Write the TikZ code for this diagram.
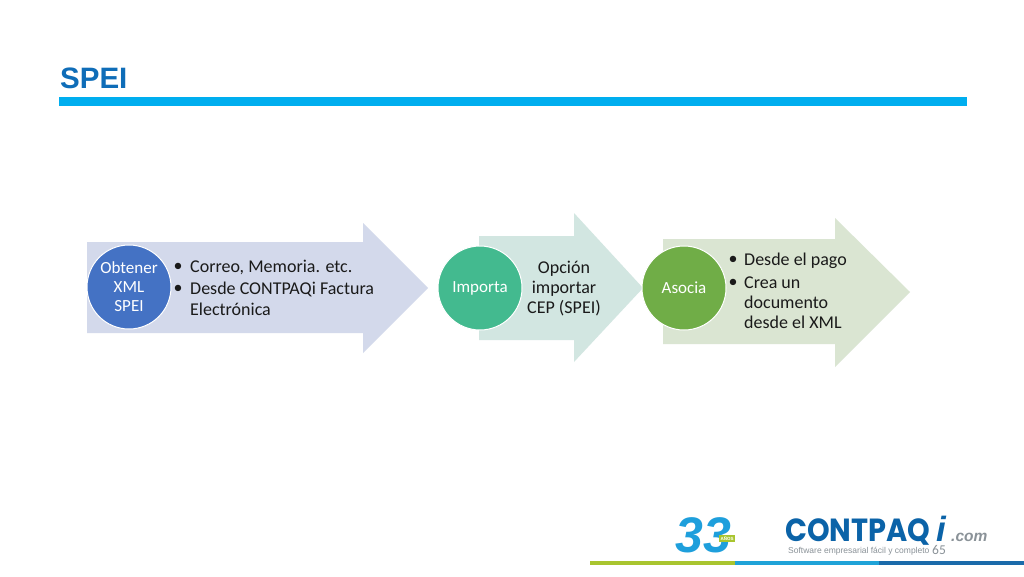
\documentclass[tikz,border=0pt]{standalone}
\usepackage{fontspec}
\setmainfont{Carlito}
\newfontfamily\arialfont{Liberation Sans}
\newfontfamily\logofont{Poppins}
\definecolor{titleblue}{HTML}{0F6DB8}
\definecolor{barblue}{HTML}{00AEEF}
\definecolor{arrowa}{HTML}{D3D9EB}
\definecolor{arrowb}{HTML}{D2E6E1}
\definecolor{arrowc}{HTML}{DAE5D2}
\definecolor{circa}{HTML}{4472C4}
\definecolor{circb}{HTML}{43BA8F}
\definecolor{circc}{HTML}{70AD47}
\definecolor{logoblue}{HTML}{0B63A8}
\definecolor{logocyan}{HTML}{1E9FDC}
\definecolor{logogray}{HTML}{8A9298}
\definecolor{stripea}{HTML}{A9C52F}
\definecolor{stripeb}{HTML}{1FA3D8}
\definecolor{stripec}{HTML}{1B6BAA}
\definecolor{textdark}{HTML}{1A1A1A}
\tikzset{
  x=1pt,y=-1pt,
  circlenode/.style={circle,draw=white,line width=1pt,minimum size=84pt,inner sep=0pt,text=white,font=\fontsize{17}{19}\selectfont,align=center},
  bodytext/.style={anchor=base west,inner sep=0pt,text=textdark,font=\fontsize{18}{21}\selectfont},
  centertext/.style={anchor=base,inner sep=0pt,text=textdark,font=\fontsize{18}{21}\selectfont},
  bullet/.style={anchor=center,inner sep=0pt,text=textdark,font=\fontsize{18}{21}\selectfont},
}
\begin{document}
\begin{tikzpicture}
\useasboundingbox (0,0) rectangle (1024,576);
\fill[white] (0,0) rectangle (1024,576);
% title
\node[anchor=base west,inner sep=0pt,text=titleblue,font=\arialfont\bfseries\fontsize{29.5}{30}\selectfont] (title) at (60,88) {SPEI};
\fill[barblue] (59,97) rectangle (967,106);
% arrows
\fill[arrowa] (87,242) -- (363,242) -- (363,223) -- (428,288) -- (363,353) -- (363,333) -- (87,333) -- cycle;
\fill[arrowb] (479,236) -- (574,236) -- (574,213) -- (643,288) -- (574,362) -- (574,340) -- (479,340) -- cycle;
\fill[arrowc] (663,239) -- (835,239) -- (835,218) -- (910,292) -- (835,367) -- (835,344) -- (663,344) -- cycle;
% circles
\node[circlenode,fill=circa] (c1) at (129,287) {Obtener\\XML\\SPEI};
\node[circlenode,fill=circb] (c2) at (480,288) {Importa};
\node[circlenode,fill=circc] (c3) at (684,288) {Asocia};
% arrow 1 text
\node[bullet] (b1a) at (178,267) {•};
\node[bodytext] (t1a) at (190,272) {Correo, Memoria. etc.};
\node[bullet] (b1b) at (178,289) {•};
\node[bodytext] (t1b) at (190,294) {Desde CONTPAQi Factura};
\node[bodytext] (t1c) at (190,315) {Electrónica};
% arrow 2 text
\node[centertext] (t2a) at (564,273) {Opción};
\node[centertext] (t2b) at (564,293) {importar};
\node[centertext] (t2c) at (564,313) {CEP (SPEI)};
% arrow 3 text
\node[bullet] (b3a) at (733,260) {•};
\node[bodytext] (t3a) at (744,265) {Desde el pago};
\node[bullet] (b3b) at (733,283) {•};
\node[bodytext] (t3b) at (744,288) {Crea un};
\node[bodytext] (t3c) at (744,308) {documento};
\node[bodytext] (t3d) at (744,328) {desde el XML};
% logos
\node[anchor=base west,inner sep=0pt,text=logocyan,font=\arialfont\bfseries\itshape\fontsize{50}{50}\selectfont] (n33) at (675,552) {33};
\fill[stripea] (719,535) rectangle (735,542);
\node[anchor=center,inner sep=0pt,text=white,font=\arialfont\bfseries\fontsize{4.5}{5}\selectfont] (anos) at (727,538.5) {AÑOS};
\node[anchor=base west,inner sep=0pt,xscale=.9,text=logoblue,font=\logofont\bfseries\fontsize{32}{32}\selectfont] (cq) at (785,541) {CONTPAQ};
\node[anchor=base west,inner sep=0pt,text=logoblue,font=\arialfont\bfseries\itshape\fontsize{35}{35}\selectfont] (ci) at (936,541) {i};
\node[anchor=base west,inner sep=0pt,text=logogray,font=\arialfont\bfseries\itshape\fontsize{15.5}{16}\selectfont] (com) at (951,541) {.com};
\node[anchor=base west,inner sep=0pt,text=logogray,font=\arialfont\fontsize{8.5}{10}\selectfont] (tag) at (788,553) {Software empresarial fácil y completo};
\node[anchor=base west,inner sep=0pt,text=logogray,font=\fontsize{13.5}{13}\selectfont] (num) at (932,554) {65};
% stripes
\fill[stripea] (590,561) rectangle (735,565);
\fill[stripeb] (735,561) rectangle (879,565);
\fill[stripec] (879,561) rectangle (1024,565);
\end{tikzpicture}
\end{document}
